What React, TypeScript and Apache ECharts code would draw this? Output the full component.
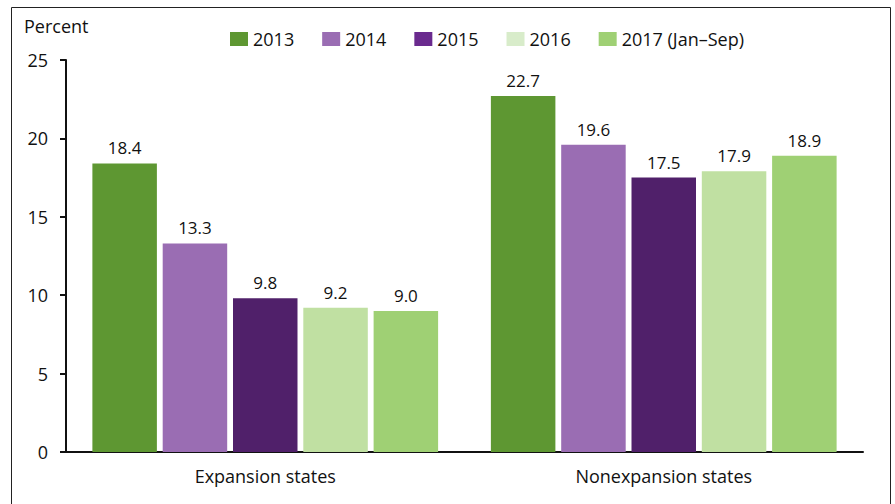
import React, { useEffect, useRef } from "react";
import * as echarts from "echarts";

const categories = ["Expansion states", "Nonexpansion states"];
const seriesNames = ["2013", "2014", "2015", "2016", "2017 (Jan\u2013Sep)"];
const values2013 = [18.4, 22.7];
const values2014 = [13.3, 19.6];
const values2015 = [9.8, 17.5];
const values2016 = [9.2, 17.9];
const values2017 = [9.0, 18.9];
const barColors = ["#5e9732", "#9a6db3", "#50206a", "#c0e0a2", "#9fd074"];
const legendColors = ["#5e9732", "#9a6db3", "#6a2a8e", "#d8ecca", "#9fd074"];
const yTicks = [0, 5, 10, 15, 20, 25];

const FONT = "'Open Sans', 'Noto Sans', sans-serif";

export default function App() {
  const ref = useRef<HTMLDivElement>(null);
  useEffect(() => {
    document.body.style.margin = "0";
    if (!ref.current) return;
    const chart = echarts.init(ref.current, null, { renderer: "svg" });
    const allValues = [values2013, values2014, values2015, values2016, values2017];
    chart.setOption({
      animation: false,
      textStyle: { fontFamily: FONT },
      graphic: [
        {
          type: "rect",
          shape: { x: 11.5, y: 7.5, width: 879, height: 520 },
          style: { fill: "none", stroke: "#222", lineWidth: 1 },
          silent: true,
        },
        {
          type: "text",
          left: 24,
          top: 17,
          style: { text: "Percent", fontSize: 18, fill: "#111", fontFamily: FONT },
        },
      ],
      legend: {
        left: 225,
        top: 25,
        itemWidth: 18,
        itemHeight: 14,
        itemGap: 28,
        textStyle: { fontSize: 18, color: "#111", fontFamily: FONT },
        data: seriesNames.map((n, i) => ({
          name: n,
          icon: "rect",
          itemStyle: { color: legendColors[i] },
        })),
      },
      grid: { left: 66, right: 32, top: 60, bottom: 52, containLabel: false },
      xAxis: {
        type: "category",
        data: categories,
        axisLine: { lineStyle: { color: "#111", width: 2 } },
        axisTick: { show: false },
        axisLabel: { fontSize: 18, color: "#111", margin: 15, fontFamily: FONT },
      },
      yAxis: {
        type: "value",
        min: yTicks[0],
        max: yTicks[yTicks.length - 1],
        interval: 5,
        axisLine: { show: true, lineStyle: { color: "#111", width: 2 } },
        axisTick: { show: true, inside: false, length: 6, lineStyle: { color: "#111", width: 2 } },
        splitLine: { show: false },
        axisLabel: { fontSize: 18, color: "#111", margin: 18, fontFamily: FONT },
      },
      series: seriesNames.map((n, i) => ({
        name: n,
        type: "bar",
        data: allValues[i],
        barWidth: 64.5,
        barGap: "9%",
        itemStyle: { color: barColors[i] },
        label: {
          show: true,
          position: "top",
          distance: 7,
          formatter: (p: any) => Number(p.value).toFixed(1),
          fontSize: 17,
          color: "#111",
          fontFamily: FONT,
        },
      })),
    });
    return () => chart.dispose();
  }, []);
  return <div ref={ref} style={{ width: 895, height: 504 }} />;
}
